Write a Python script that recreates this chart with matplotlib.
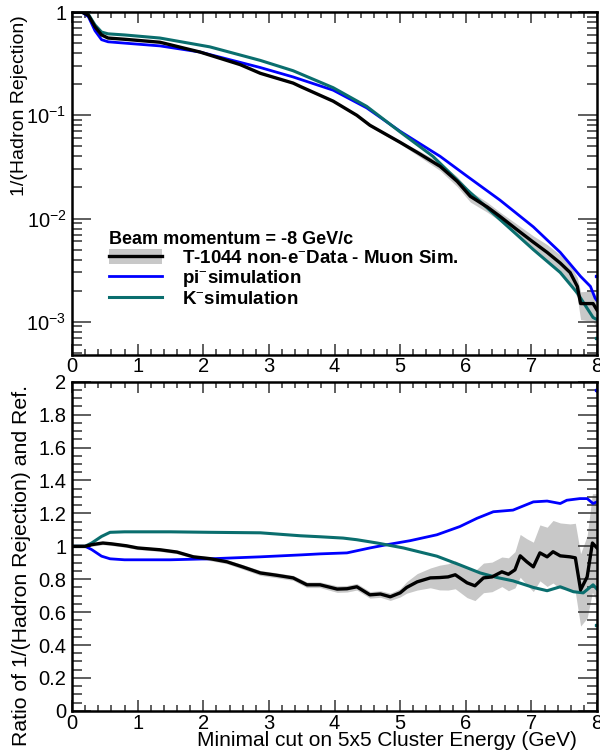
import numpy as np
import matplotlib
matplotlib.use('Agg')
import matplotlib.pyplot as plt
from matplotlib.ticker import FixedLocator, FixedFormatter, MultipleLocator, NullFormatter
from matplotlib.patches import Patch
from matplotlib.lines import Line2D

plt.rcParams['font.family'] = ['Liberation Sans', 'DejaVu Sans']
plt.rcParams['mathtext.fontset'] = 'custom'
plt.rcParams['mathtext.rm'] = 'Liberation Sans'
plt.rcParams['mathtext.it'] = 'Liberation Sans:italic'
plt.rcParams['mathtext.bf'] = 'Liberation Sans:bold'

# --- top panel: 1/(hadron rejection) vs cut ---
x_data = [0, 0.15, 0.25, 0.35, 0.45, 0.55, 0.8, 1.34, 1.95, 2.56, 2.87, 3.37, 3.48, 3.98,
          4.34, 4.54, 5.0, 5.26, 5.61, 5.87, 6.07, 6.33, 6.52, 6.78, 7.03, 7.24, 7.44,
          7.59, 7.70, 7.75, 7.94, 8.0]
data = [1, 1, 0.93, 0.72, 0.6, 0.56, 0.545, 0.51, 0.41, 0.31, 0.255, 0.205, 0.19, 0.137,
        0.1, 0.08, 0.0547, 0.0437, 0.032, 0.0229, 0.0164, 0.0129, 0.0105, 0.0078,
        0.0059, 0.0047, 0.0037, 0.0030, 0.0022, 0.0015, 0.0015, 0.0013]
data_relerr = [0.01, 0.01, 0.01, 0.01, 0.01, 0.01, 0.01, 0.01, 0.01, 0.015, 0.015, 0.02,
               0.02, 0.02, 0.025, 0.03, 0.035, 0.06, 0.09, 0.11, 0.12, 0.11, 0.1, 0.13,
               0.15, 0.19, 0.2, 0.21, 0.22, 0.3, 0.33, 0.33]

x_pi = [0, 0.15, 0.25, 0.35, 0.45, 0.55, 0.8, 1.34, 1.95, 2.87, 3.37, 3.98, 4.49, 5.0,
        5.61, 6.02, 6.52, 7.03, 7.44, 7.75, 7.9, 7.97, 8.0]
pi_sim = [1, 1, 0.9, 0.66, 0.54, 0.515, 0.5, 0.47, 0.41, 0.29, 0.235, 0.175, 0.118, 0.07,
          0.040, 0.0257, 0.0151, 0.0083, 0.0047, 0.00275, 0.0022, 0.0017, 0.0016]

x_k = [0, 0.15, 0.25, 0.35, 0.45, 0.55, 0.8, 1.34, 2.1, 2.87, 3.37, 3.98, 4.49, 5.0,
       5.5, 6.02, 6.52, 7.03, 7.44, 7.70, 7.94, 8.0]
k_sim = [1, 1, 0.95, 0.75, 0.64, 0.615, 0.6, 0.56, 0.46, 0.34, 0.27, 0.185, 0.122, 0.069,
         0.040, 0.019, 0.0098, 0.005, 0.003, 0.0019, 0.0011, 0.00105]

# --- bottom panel: ratio to reference ---
xr_data = [0, 0.2, 0.3, 0.47, 0.6, 0.83, 1.0, 1.34, 1.6, 1.85, 2.1, 2.36, 2.6, 2.87, 3.1,
           3.37, 3.58, 3.78, 4.04, 4.19, 4.34, 4.54, 4.7, 4.85, 5.0, 5.1, 5.26, 5.46, 5.6,
           5.73, 5.84, 6.02, 6.14, 6.27, 6.4, 6.55, 6.65, 6.75, 6.83, 6.93, 7.03, 7.13,
           7.24, 7.33, 7.44, 7.59, 7.67, 7.75, 7.85, 7.93, 8.0]
ratio_data = [1.0, 1.0, 1.01, 1.02, 1.015, 1.003, 0.99, 0.979, 0.965, 0.936, 0.925, 0.906,
              0.875, 0.838, 0.825, 0.808, 0.766, 0.766, 0.74, 0.742, 0.754, 0.705, 0.71,
              0.693, 0.717, 0.75, 0.784, 0.808, 0.81, 0.814, 0.827, 0.778, 0.76, 0.808,
              0.814, 0.845, 0.83, 0.857, 0.942, 0.906, 0.875, 0.96, 0.936, 0.967, 0.942,
              0.936, 0.93, 0.735, 0.814, 1.02, 0.99]
ratio_err = [0.01, 0.01, 0.01, 0.01, 0.01, 0.01, 0.01, 0.01, 0.01, 0.01, 0.012, 0.012,
             0.014, 0.015, 0.015, 0.015, 0.017, 0.017, 0.02, 0.02, 0.02, 0.02, 0.02, 0.022,
             0.025, 0.035, 0.05, 0.06, 0.075, 0.08, 0.085, 0.09, 0.09, 0.09, 0.09, 0.09,
             0.1, 0.11, 0.13, 0.14, 0.15, 0.17, 0.18, 0.19, 0.2, 0.2, 0.21, 0.22, 0.25,
             0.3, 0.33]

xr_pi = [0, 0.2, 0.3, 0.45, 0.58, 0.8, 1.5, 2.1, 2.87, 3.5, 3.78, 4.19, 4.54, 4.8, 5.15,
         5.56, 5.91, 6.17, 6.42, 6.72, 7.03, 7.24, 7.44, 7.54, 7.74, 7.85, 7.94, 8.0]
ratio_pi = [1.0, 1.0, 0.98, 0.94, 0.924, 0.918, 0.918, 0.924, 0.936, 0.948, 0.954, 0.96,
            0.99, 1.01, 1.034, 1.07, 1.12, 1.17, 1.21, 1.22, 1.27, 1.275, 1.26, 1.28, 1.29,
            1.29, 1.26, 1.27]

xr_k = [0, 0.2, 0.3, 0.45, 0.58, 0.8, 1.5, 2.1, 2.87, 3.48, 3.78, 4.13, 4.34, 4.65, 5.05,
        5.56, 5.91, 6.22, 6.48, 6.72, 7.03, 7.24, 7.44, 7.64, 7.79, 7.94, 8.0]
ratio_k = [1.0, 1.0, 1.02, 1.06, 1.085, 1.088, 1.088, 1.085, 1.082, 1.064, 1.058, 1.05,
           1.04, 1.02, 0.99, 0.94, 0.887, 0.838, 0.81, 0.79, 0.75, 0.73, 0.754, 0.724,
           0.717, 0.766, 0.74]

# values of the overflow stubs drawn at the right edge
edge_top = {'pi': 0.0028, 'k': 0.0007}
edge_ratio = {'pi': 1.95, 'k': 0.52}

BLUE = '#0000ff'
TEAL = '#0a6e6e'
GRAY = '#c8c8c8'
TICK_FS = 14.5


def root_style(ax):
    for s in ax.spines.values():
        s.set_linewidth(1.8)
    ax.set_xlim(0, 8)
    ax.xaxis.set_major_locator(MultipleLocator(1))
    ax.xaxis.set_minor_locator(MultipleLocator(0.2))
    ax.tick_params(which='both', direction='in', top=True, right=True, width=1.1,
                   labelsize=TICK_FS, color='#333333')
    ax.tick_params(axis='x', which='major', length=8, pad=2)
    ax.tick_params(axis='x', which='minor', length=4)
    ax.tick_params(axis='y', which='major', length=14, pad=4)
    ax.tick_params(axis='y', which='minor', length=7)


fig = plt.figure(figsize=(6.0, 7.53), dpi=100)
ax1 = fig.add_axes([0.12, 0.529, 0.875, 0.455])
ax2 = fig.add_axes([0.12, 0.056, 0.875, 0.437])

# top
d = np.array(data)
e = np.array(data_relerr)
ax1.fill_between(x_data, d * (1 - e), d * (1 + e), color=GRAY, lw=0)
ax1.plot(x_pi, pi_sim, color=BLUE, lw=2.0)
ax1.plot(x_k, k_sim, color=TEAL, lw=2.2)
ax1.plot(x_data, data, color='black', lw=2.4)
ax1.plot([7.99], [edge_top['pi']], 's', ms=2, color=BLUE, clip_on=False)
ax1.plot([7.99], [edge_top['k']], 's', ms=2, color=TEAL, clip_on=False)
ax1.set_yscale('log')
ax1.set_ylim(4.8e-4, 1.0)
root_style(ax1)
ax1.yaxis.set_major_locator(FixedLocator([1e-3, 1e-2, 1e-1, 1]))
ax1.yaxis.set_major_formatter(FixedFormatter(['$10^{-3}$', '$10^{-2}$', '$10^{-1}$', '1']))
ax1.yaxis.set_minor_formatter(NullFormatter())
ax1.set_ylabel('1/(Hadron Rejection)', fontsize=14, loc='top')
ax1.yaxis.set_label_coords(-0.083, 0.99)

handles = [(Patch(facecolor=GRAY, edgecolor='none'), Line2D([], [], color='black', lw=2.4)),
           Line2D([], [], color=BLUE, lw=2.0),
           Line2D([], [], color=TEAL, lw=2.2)]
labels = ['T-1044 non-e$^{-}$Data - Muon Sim.', 'pi$^{-}$simulation', 'K$^{-}$simulation']
leg = ax1.legend(handles, labels, loc='upper left', bbox_to_anchor=(0.07, 0.36),
                 frameon=False, prop={'weight': 'bold', 'size': 13.5},
                 title='Beam momentum = -8 GeV/c',
                 title_fontproperties={'weight': 'bold', 'size': 13},
                 alignment='left', handlelength=2.85, handleheight=0.85,
                 labelspacing=0.05, handletextpad=1.05, borderpad=0, borderaxespad=0)

# bottom
rd = np.array(ratio_data)
re = np.array(ratio_err)
ax2.fill_between(xr_data, rd - re, rd + re, color=GRAY, lw=0)
ax2.plot(xr_pi, ratio_pi, color=BLUE, lw=2.0)
ax2.plot(xr_k, ratio_k, color=TEAL, lw=2.2)
ax2.plot(xr_data, ratio_data, color='black', lw=2.4)
ax2.plot([7.99], [edge_ratio['pi']], 's', ms=2, color=BLUE, clip_on=False)
ax2.plot([7.99], [edge_ratio['k']], 's', ms=2, color=TEAL, clip_on=False)
ax2.set_ylim(0, 2)
root_style(ax2)
ax2.yaxis.set_major_locator(FixedLocator([0, 0.2, 0.4, 0.6, 0.8, 1.0, 1.2, 1.4, 1.6, 1.8, 2.0]))
ax2.yaxis.set_minor_locator(MultipleLocator(0.05))
ax2.yaxis.set_major_formatter(FixedFormatter(['0', '0.2', '0.4', '0.6', '0.8', '1', '1.2',
                                              '1.4', '1.6', '1.8', '2']))
ax2.set_ylabel('Ratio of 1/(Hadron Rejection) and Ref.', fontsize=15.3, loc='top')
ax2.yaxis.set_label_coords(-0.078, 0.99)
ax2.set_xlabel('Minimal cut on 5x5 Cluster Energy (GeV)', fontsize=15, loc='right')
ax2.xaxis.set_label_coords(0.962, -0.062)
ax2.xaxis.label.set_va('top')

fig.savefig('out.png', dpi=100)
